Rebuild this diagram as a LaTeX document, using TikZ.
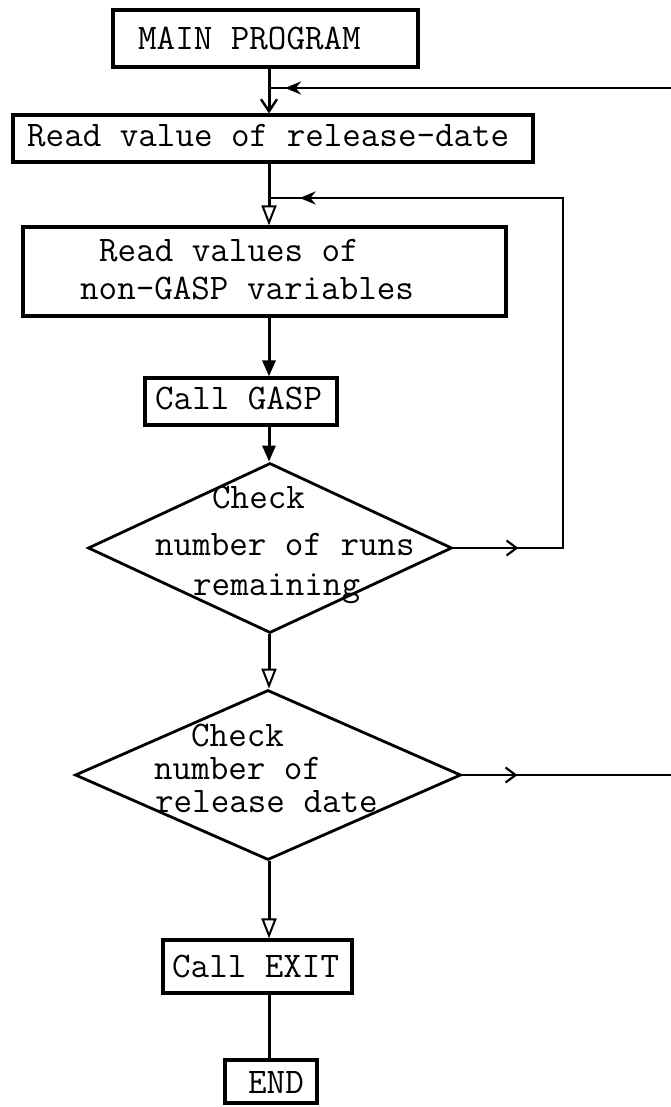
\documentclass[tikz,border=0pt]{standalone}
\usetikzlibrary{arrows.meta,shapes.geometric,decorations.markings}
\begin{document}
\begin{tikzpicture}[x=1pt,y=-1pt,
  box/.style={draw, rectangle, line width=3.2pt, inner sep=0pt},
  decision/.style={draw, diamond, line width=2.8pt, inner sep=0pt},
  txt/.style={anchor=base west, inner sep=0pt, font=\fontsize{36}{38}\selectfont\ttfamily},
  flow/.style={line width=3pt},
  loopline/.style={line width=2.6pt},
  downtip/.style={-{Triangle[open, length=20pt, width=15pt, line width=2pt]}},
  downbarb/.style={-{Straight Barb[length=12pt, width=16pt, line width=2.4pt]}},
  downfill/.style={-{Triangle[length=16pt, width=13pt]}},
  rbarb/.style={postaction={decorate, decoration={markings,
      mark=at position #1 with {\arrow{Straight Barb[length=10pt, width=15pt, line width=2.2pt]}}}}},
  lstealth/.style={postaction={decorate, decoration={markings,
      mark=at position #1 with {\arrow{Stealth[length=16pt, width=13pt]}}}}}
]
\useasboundingbox (0,0) rectangle (671,1107);

% main spine of the flowchart
\coordinate (sp) at (269,0);

% boxes and decisions
\node[box, minimum width=305pt, minimum height=57pt] (b1) at (265.5,38.5) {};
\node[box, minimum width=520pt, minimum height=47pt] (b2) at (273,138.5) {};
\node[box, minimum width=483pt, minimum height=89pt] (b3) at (264.5,271.5) {};
\node[box, minimum width=192pt, minimum height=47pt] (b4) at (241,401.5) {};
\node[decision, minimum width=364pt, minimum height=170pt] (d1) at (270,548) {};
\node[decision, minimum width=386pt, minimum height=170pt] (d2) at (268,775) {};
\node[box, minimum width=189pt, minimum height=53pt] (b5) at (257.5,966.5) {};
\node[box, minimum width=92pt, minimum height=43pt] (b6) at (271,1081.5) {};

% typed labels
\node[txt] (t1) at (138,50) {MAIN PROGRAM};
\node[txt] (t2) at (27,147) {Read value of release-date};
\node[txt] (t3a) at (99,261) {Read values of};
\node[txt] (t3b) at (80,299) {non-GASP variables};
\node[txt] (t4) at (155,409) {Call GASP};
\node[txt] (t5a) at (212,508) {Check};
\node[txt] (t5b) at (155,555) {number of runs};
\node[txt] (t5c) at (193,595) {remaining};
\node[txt] (t6a) at (191,746) {Check};
\node[txt] (t6b) at (154,779) {number of};
\node[txt] (t6c) at (155,812) {release date};
\node[txt] (t7) at (172,977) {Call EXIT};
\node[txt] (t8) at (248,1093) {END};

% junctions and off-page ends
\coordinate (j1) at (269,88);
\coordinate (j2) at (269,198);
\coordinate (offtop) at (671,88);
\coordinate (loopx) at (563,548);
\coordinate (offd2) at (671,775);

% main flow
\draw[flow, downbarb] (b1.south -| sp) -- (b2.north -| sp);
\draw[flow, downtip] (b2.south -| sp) -- (b3.north -| sp);
\draw[flow, downfill] (b3.south -| sp) -- (b4.north -| sp);
\draw[flow, downfill] (b4.south -| sp) -- (d1.north -| sp);
\draw[flow, downtip] (d1.south -| sp) -- (d2.north -| sp);
\draw[flow, downtip] (d2.south -| sp) -- (b5.north -| sp);
\draw[flow] (b5.south -| sp) -- (b6.north -| sp);

% loops back
\draw[loopline, lstealth=386pt] (offtop) -- (j1);
\draw[loopline, rbarb=65pt, lstealth=723pt] (d1.east) -- (loopx) |- (j2);
\draw[loopline, rbarb=55pt] (d2.east) -- (offd2);
\end{tikzpicture}
\end{document}
